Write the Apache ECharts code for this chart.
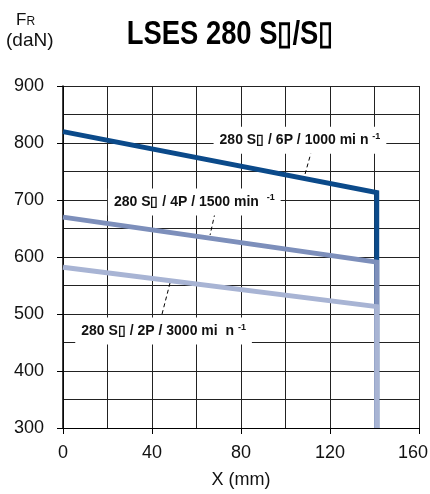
<!DOCTYPE html>
<html><head><meta charset="utf-8">
<script src="https://cdn.jsdelivr.net/npm/echarts@6/dist/echarts.min.js"></script>
<style>html,body{margin:0;padding:0;background:#fff}#c{width:430px;height:494px}</style>
</head><body><div id="c"></div>
<script>
// ---- data ----
const BOX = '\u25AF';
const xPoints = [0, 141, 141];
const force6P = [820, 713, 300];
const force4P = [670, 591, 300];
const force2P = [582, 513, 300];
const xTicks = [0, 40, 80, 120, 160];
const yTicks = [300, 400, 500, 600, 700, 800, 900];
const curveTexts = [
  '280 S' + BOX + ' / 6P / 1000 mi n ',
  '280 S' + BOX + ' / 4P / 1500 min  ',
  '280 S' + BOX + ' / 2P / 3000 mi  n '
];
const titleText = 'LSES 280 S' + BOX + '/S' + BOX;

// ---- annotation layout (data coordinates) ----
const labelAnchors = [[106.5, 805], [59, 696.5], [45.2, 470]];
const leaderLines = [
  [[111.8, 787.7], [108.8, 745.6]],
  [[68.3, 677.2], [66.1, 638.6]],
  [[48.1, 554.4], [44.4, 498.2]]
];
const colors = ['#0b4a8a', '#7d8fbb', '#a8b4d4'];
const allForces = [force6P, force4P, force2P];

const chart = echarts.init(document.getElementById('c'), null, {renderer: 'canvas'});
const baseFont = 'Liberation Sans, Arial, sans-serif';

const series = allForces.map((vals, i) => ({
  type: 'line',
  data: xPoints.map((x, k) => [x, vals[k]]),
  showSymbol: false,
  symbol: 'none',
  z: 3 + i,
  lineStyle: {color: colors[i], width: 5, join: 'miter', cap: 'butt'},
  itemStyle: {color: colors[i]},
  silent: true,
  markLine: {
    silent: true,
    symbol: 'none',
    label: {show: false},
    lineStyle: {color: '#000', width: 1, type: [4, 3]},
    data: [[{coord: leaderLines[i][0]}, {coord: leaderLines[i][1]}]]
  },
  markPoint: {
    silent: true,
    symbol: 'rect',
    symbolSize: 1,
    itemStyle: {color: 'rgba(0,0,0,0)'},
    data: [{coord: labelAnchors[i]}],
    label: {
      show: true,
      position: 'inside',
      formatter: '{a|' + curveTexts[i] + '}{s|-1}',
      backgroundColor: '#fff',
      padding: [5, 6, 5, 6],
      rich: {
        a: {fontFamily: baseFont, fontWeight: 'bold', fontSize: 14, color: '#111'},
        s: {fontFamily: baseFont, fontWeight: 'bold', fontSize: 9, color: '#111', padding: [0, 0, 8, 0]}
      }
    }
  }
}));

const xMax = xTicks[xTicks.length - 1];

chart.setOption({
  animation: false,
  backgroundColor: '#fff',
  grid: {left: 63, right: 11, top: 86, bottom: 66, containLabel: false, outerBoundsMode: 'none'},
  xAxis: {
    type: 'value', min: xTicks[0], max: xMax, interval: 40,
    name: 'X (mm)', nameLocation: 'middle', nameGap: 43,
    nameTextStyle: {fontFamily: baseFont, fontSize: 18, color: '#111'},
    axisLine: {show: true, lineStyle: {color: '#000', width: 1}},
    axisTick: {show: true, length: 6, lineStyle: {color: '#000'}},
    axisLabel: {
      margin: 16, fontFamily: baseFont, fontSize: 18, color: '#111',
      formatter: v => v === xMax ? '{m|' + v + '}' : String(v),
      rich: {m: {fontFamily: baseFont, fontSize: 18, color: '#111', padding: [0, 12, 0, 0]}}
    },
    splitLine: {show: true, lineStyle: {color: '#222', width: 1}},
    minorTick: {show: false, splitNumber: 2},
    minorSplitLine: {show: true, lineStyle: {color: '#222', width: 1}}
  },
  yAxis: {
    type: 'value', min: yTicks[0], max: yTicks[yTicks.length - 1], interval: 100,
    axisLine: {show: true, lineStyle: {color: '#000', width: 1.5}},
    axisTick: {show: true, length: 6, lineStyle: {color: '#000'}},
    axisLabel: {margin: 19, fontFamily: baseFont, fontSize: 18, color: '#111'},
    splitLine: {show: true, lineStyle: {color: '#222', width: 1}},
    minorTick: {show: false, splitNumber: 2},
    minorSplitLine: {show: true, lineStyle: {color: '#222', width: 1}}
  },
  graphic: [
    {type: 'text', x: 230, y: 35, scaleX: 0.83, style: {text: titleText, fill: '#000',
      font: 'bold 33px Liberation Sans, Arial, sans-serif',
      textAlign: 'center', textVerticalAlign: 'middle'}},
    {type: 'text', x: 16, y: 12, style: {
      text: '{f|F}{r|R}', fill: '#111',
      rich: {f: {fontFamily: baseFont, fontSize: 17, color: '#111'},
             r: {fontFamily: baseFont, fontSize: 12, color: '#111', padding: [2, 0, 0, 0]}}}},
    {type: 'text', x: 6, y: 31, style: {text: '(daN)', fill: '#111',
      font: '19px Liberation Sans, Arial, sans-serif'}}
  ],
  series: series
});
</script></body></html>
